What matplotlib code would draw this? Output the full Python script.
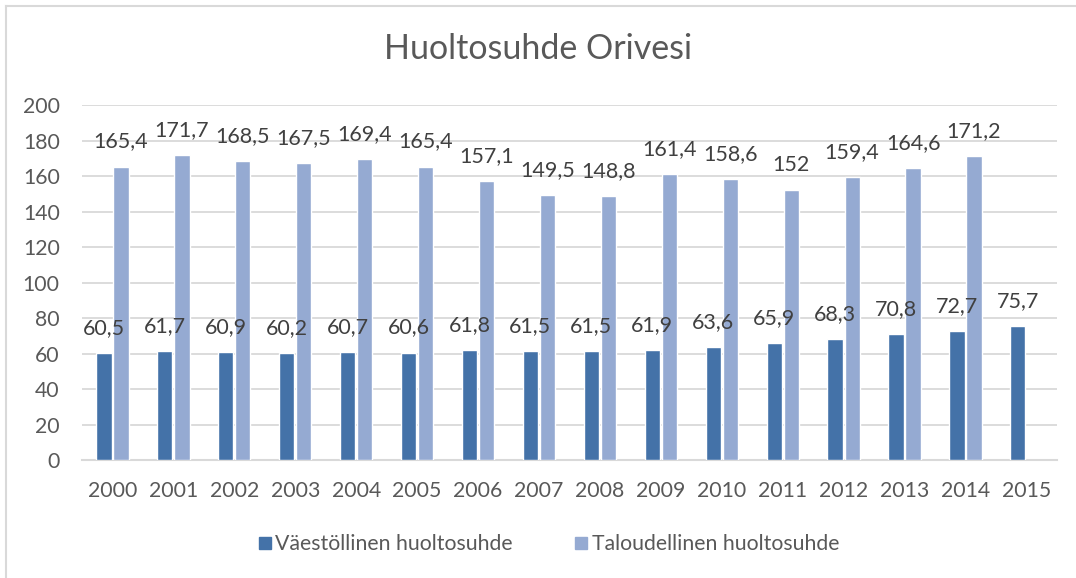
import numpy as np
import matplotlib
matplotlib.use('Agg')
from matplotlib import pyplot as plt
from matplotlib.lines import Line2D

vuodet = ['2000', '2001', '2002', '2003', '2004', '2005', '2006', '2007',
          '2008', '2009', '2010', '2011', '2012', '2013', '2014', '2015']
vaestollinen = [60.5, 61.7, 60.9, 60.2, 60.7, 60.6, 61.8, 61.5,
                61.5, 61.9, 63.6, 65.9, 68.3, 70.8, 72.7, 75.7]
taloudellinen = [165.4, 171.7, 168.5, 167.5, 169.4, 165.4, 157.1, 149.5,
                 148.8, 161.4, 158.6, 152, 159.4, 164.6, 171.2, np.nan]
sarjat = ['Väestöllinen huoltosuhde', 'Taloudellinen huoltosuhde']

tumma = '#4472A8'
vaalea = '#95AAD2'
harmaa = '#595959'
plt.rcParams['font.family'] = ['Lato', 'DejaVu Sans']

fig = plt.figure(figsize=(10.76, 5.78), dpi=100)
ax = fig.add_axes([0.0762, 0.204, 0.906, 0.614])

x = np.arange(len(vuodet))
w = 0.25
ax.bar(x - 0.14, vaestollinen, w, color=tumma, edgecolor='white', linewidth=1, zorder=3)
ax.bar(x + 0.14, taloudellinen, w, color=vaalea, edgecolor='white', linewidth=1, zorder=3)


def teksti(v):
    return ('%g' % v).replace('.', ',')


for i in range(len(vuodet)):
    for dx, arvot in [(-0.14, vaestollinen), (0.14, taloudellinen)]:
        v = arvot[i]
        if np.isnan(v):
            continue
        ax.annotate(teksti(v), (x[i] + dx, v), xytext=(0, 18), textcoords='offset points',
                    ha='center', va='center', fontsize=15.5, color='#404040', zorder=4)

ax.set_xlim(-0.5, len(vuodet) - 0.5)
ax.set_ylim(0, 200)
ax.set_yticks(range(0, 201, 20))
ax.set_xticks(x)
ax.set_xticklabels(vuodet)
ax.tick_params(axis='both', length=0, labelsize=15.3, labelcolor=harmaa)
ax.tick_params(axis='y', pad=16)
ax.tick_params(axis='x', pad=15)
ax.grid(axis='y', color='#D9D9D9', linewidth=1.3, zorder=0)
for s in ['top', 'right', 'left']:
    ax.spines[s].set_visible(False)
ax.spines['bottom'].set_color('#D9D9D9')
ax.spines['bottom'].set_linewidth(1.5)

fig.text(0.5, 0.915, 'Huoltosuhde Orivesi', ha='center', va='center', fontsize=24.5, color=harmaa)

kahvat = [Line2D([], [], marker='s', linestyle='', markersize=9, color=tumma),
          Line2D([], [], marker='s', linestyle='', markersize=9, color=vaalea)]
fig.legend(kahvat, sarjat, loc='center', bbox_to_anchor=(0.507, 0.058), ncol=2, frameon=False,
           fontsize=15.3, labelcolor=harmaa, handletextpad=-0.1, handlelength=1.2,
           columnspacing=2.6)

# reunaviivat
fig.add_artist(Line2D([0.0052, 0.0052], [0, 0.989], color='#D9D9D9', linewidth=1.5))
fig.add_artist(Line2D([0.0052, 1], [0.989, 0.989], color='#D9D9D9', linewidth=1.5))

plt.savefig('out.png', dpi=100)
plt.close(fig)
